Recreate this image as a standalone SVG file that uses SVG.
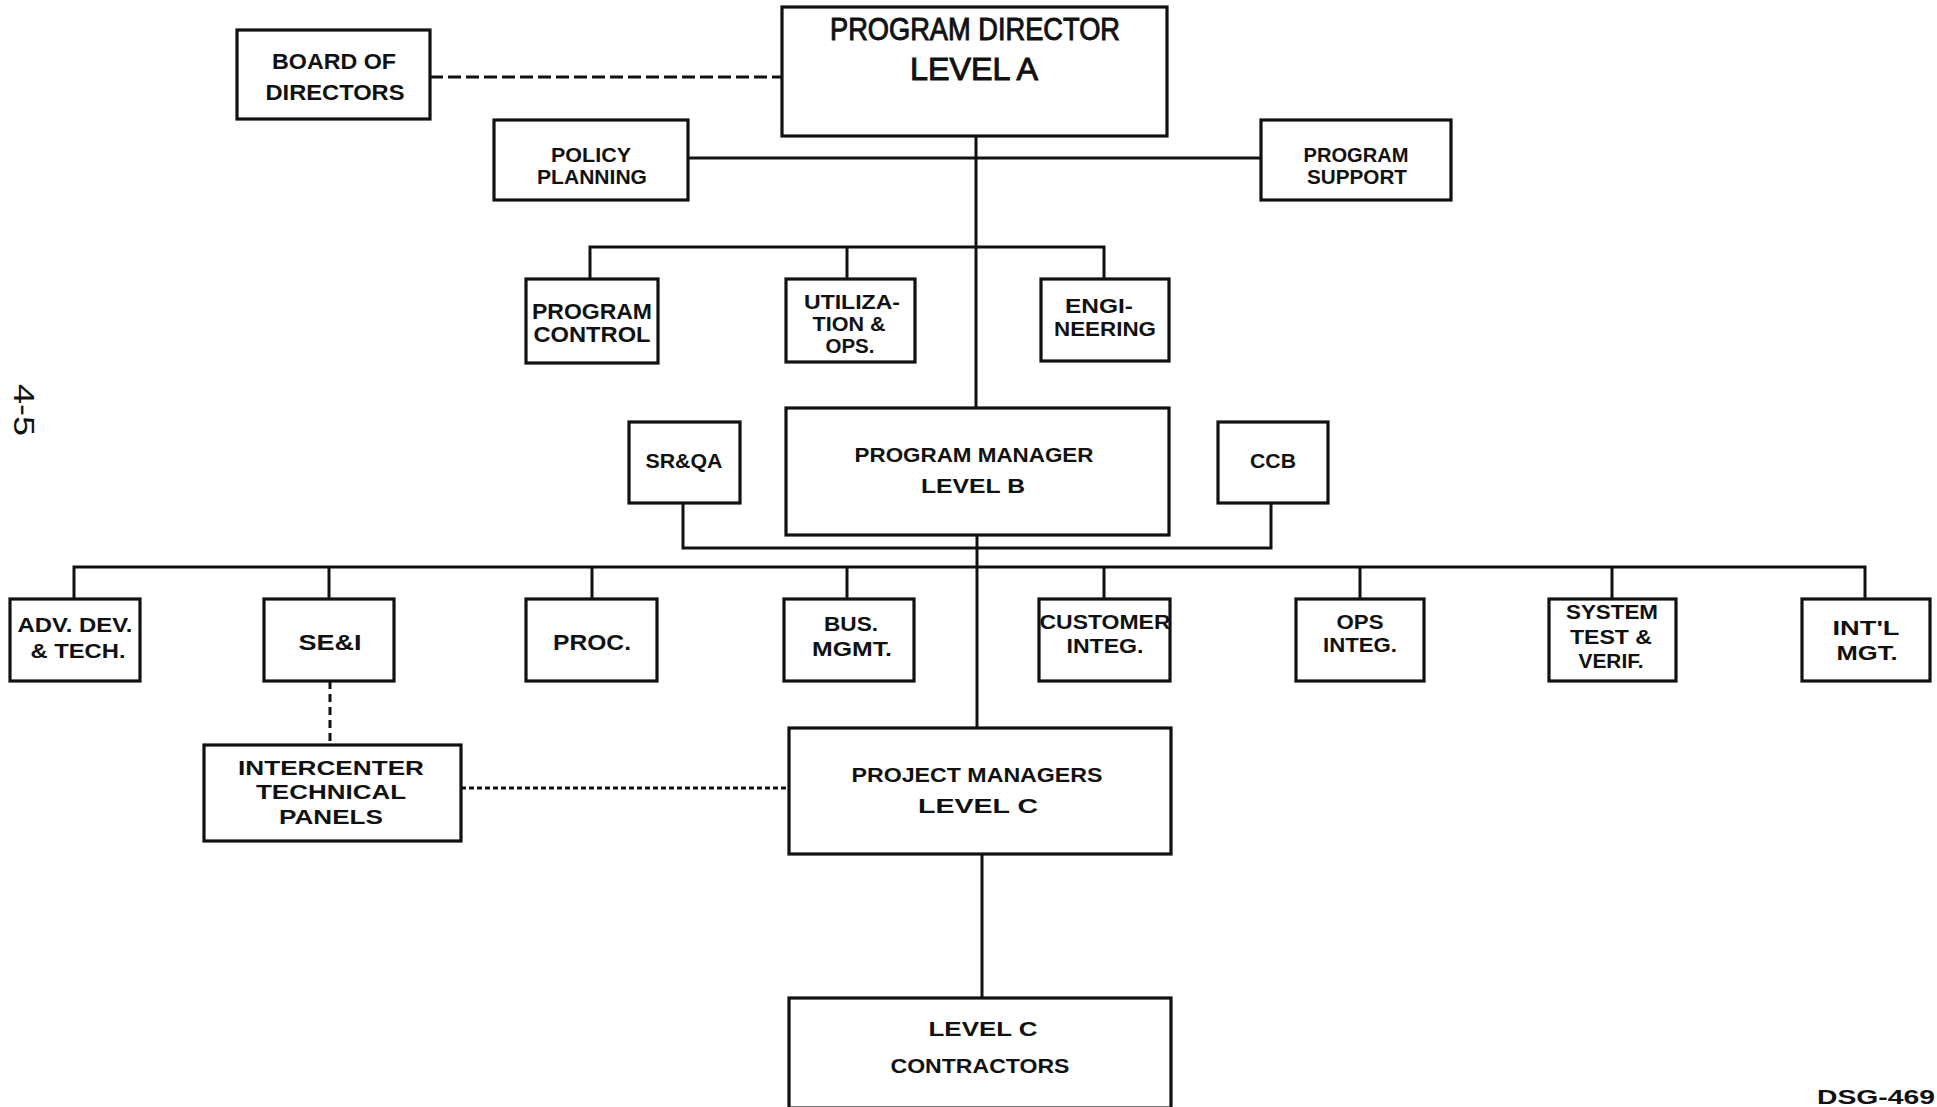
<svg xmlns="http://www.w3.org/2000/svg" width="1937" height="1107" viewBox="0 0 1937 1107">
  <style>
    .box { fill: #fff; stroke: #111; stroke-width: 3.2; }
    .ln { fill: none; stroke: #111; stroke-width: 3; }
    .dash { fill: none; stroke: #111; stroke-width: 3; stroke-dasharray: 13 5; }
    .dot { fill: none; stroke: #111; stroke-width: 3; stroke-dasharray: 5 3; }
    .vdash { fill: none; stroke: #111; stroke-width: 3; stroke-dasharray: 8 5; }
    text { font-family: "Liberation Sans", Arial, sans-serif; font-weight: bold; fill: #111; text-anchor: middle; }
    .t { font-size: 21px; }
    .big { font-size: 32px; font-weight: normal; stroke: #111; stroke-width: 1; }
    .mid { font-size: 22px; }
    .page { font-size: 30px; font-weight: normal; }
  </style>

  <!-- connectors -->
  <g id="connectors">
    <line class="dash" x1="430" y1="77" x2="782" y2="77"/>
    <line class="ln" x1="976" y1="136" x2="976" y2="408"/>
    <line class="ln" x1="688" y1="158" x2="1261" y2="158"/>
    <polyline class="ln" points="590,279 590,247 1104,247 1104,279"/>
    <line class="ln" x1="847" y1="247" x2="847" y2="279"/>
    <polyline class="ln" points="683,503 683,548 1271,548 1271,503"/>
    <line class="ln" x1="977" y1="535" x2="977" y2="728"/>
    <polyline class="ln" points="74,599 74,567 1865,567 1865,599"/>
    <line class="ln" x1="329" y1="567" x2="329" y2="599"/>
    <line class="ln" x1="592" y1="567" x2="592" y2="599"/>
    <line class="ln" x1="847" y1="567" x2="847" y2="599"/>
    <line class="ln" x1="1104" y1="567" x2="1104" y2="599"/>
    <line class="ln" x1="1360" y1="567" x2="1360" y2="599"/>
    <line class="ln" x1="1612" y1="567" x2="1612" y2="599"/>
    <line class="vdash" x1="330" y1="681" x2="330" y2="745"/>
    <line class="dot" x1="461" y1="788" x2="789" y2="788"/>
    <line class="ln" x1="982" y1="854" x2="982" y2="998"/>
  </g>

  <g id="board">
    <rect class="box" x="237" y="30" width="193" height="89"/>
    <text class="mid" x="334" y="69" textLength="124" lengthAdjust="spacingAndGlyphs">BOARD OF</text>
    <text class="mid" x="335" y="100" textLength="139" lengthAdjust="spacingAndGlyphs">DIRECTORS</text>
  </g>

  <g id="program-director">
    <rect class="box" x="782" y="7" width="385" height="129"/>
    <text class="big" x="975" y="40" textLength="290" lengthAdjust="spacingAndGlyphs">PROGRAM DIRECTOR</text>
    <text class="big" x="974" y="80" textLength="128" lengthAdjust="spacingAndGlyphs">LEVEL A</text>
  </g>

  <g id="policy-planning">
    <rect class="box" x="494" y="120" width="194" height="80"/>
    <text class="t" x="591" y="162" textLength="80" lengthAdjust="spacingAndGlyphs">POLICY</text>
    <text class="t" x="592" y="184" textLength="110" lengthAdjust="spacingAndGlyphs">PLANNING</text>
  </g>

  <g id="program-support">
    <rect class="box" x="1261" y="120" width="190" height="80"/>
    <text class="t" x="1356" y="162" textLength="105" lengthAdjust="spacingAndGlyphs">PROGRAM</text>
    <text class="t" x="1357" y="184" textLength="100" lengthAdjust="spacingAndGlyphs">SUPPORT</text>
  </g>

  <g id="program-control">
    <rect class="box" x="526" y="279" width="132" height="84"/>
    <text class="mid" x="592" y="319" textLength="120" lengthAdjust="spacingAndGlyphs">PROGRAM</text>
    <text class="mid" x="592" y="342" textLength="117" lengthAdjust="spacingAndGlyphs">CONTROL</text>
  </g>

  <g id="utilization">
    <rect class="box" x="786" y="279" width="129" height="83"/>
    <text class="t" x="852" y="309" textLength="96" lengthAdjust="spacingAndGlyphs">UTILIZA-</text>
    <text class="t" x="849" y="331" textLength="73" lengthAdjust="spacingAndGlyphs">TION &amp;</text>
    <text class="t" x="850" y="353" textLength="49" lengthAdjust="spacingAndGlyphs">OPS.</text>
  </g>

  <g id="engineering">
    <rect class="box" x="1041" y="279" width="128" height="82"/>
    <text class="t" x="1099" y="313" textLength="68" lengthAdjust="spacingAndGlyphs">ENGI-</text>
    <text class="t" x="1105" y="336" textLength="102" lengthAdjust="spacingAndGlyphs">NEERING</text>
  </g>

  <g id="program-manager">
    <rect class="box" x="786" y="408" width="383" height="127"/>
    <text class="t" x="974" y="462" textLength="239" lengthAdjust="spacingAndGlyphs">PROGRAM MANAGER</text>
    <text class="t" x="973" y="493" textLength="104" lengthAdjust="spacingAndGlyphs">LEVEL B</text>
  </g>

  <g id="srqa">
    <rect class="box" x="629" y="422" width="111" height="81"/>
    <text class="t" x="684" y="468" textLength="77" lengthAdjust="spacingAndGlyphs">SR&amp;QA</text>
  </g>

  <g id="ccb">
    <rect class="box" x="1218" y="422" width="110" height="81"/>
    <text class="t" x="1273" y="468" textLength="46" lengthAdjust="spacingAndGlyphs">CCB</text>
  </g>

  <g id="adv-dev">
    <rect class="box" x="10" y="599" width="130" height="82"/>
    <text class="t" x="75" y="632" textLength="115" lengthAdjust="spacingAndGlyphs">ADV. DEV.</text>
    <text class="t" x="78" y="658" textLength="95" lengthAdjust="spacingAndGlyphs">&amp; TECH.</text>
  </g>

  <g id="sei">
    <rect class="box" x="264" y="599" width="130" height="82"/>
    <text class="mid" x="330" y="650" textLength="63" lengthAdjust="spacingAndGlyphs">SE&amp;I</text>
  </g>

  <g id="proc">
    <rect class="box" x="526" y="599" width="131" height="82"/>
    <text class="mid" x="592" y="650" textLength="78" lengthAdjust="spacingAndGlyphs">PROC.</text>
  </g>

  <g id="bus-mgmt">
    <rect class="box" x="784" y="599" width="130" height="82"/>
    <text class="t" x="851" y="631" textLength="54" lengthAdjust="spacingAndGlyphs">BUS.</text>
    <text class="t" x="852" y="656" textLength="80" lengthAdjust="spacingAndGlyphs">MGMT.</text>
  </g>

  <g id="customer-integ">
    <rect class="box" x="1039" y="599" width="131" height="82"/>
    <text class="t" x="1105" y="629" textLength="131" lengthAdjust="spacingAndGlyphs">CUSTOMER</text>
    <text class="t" x="1105" y="653" textLength="77" lengthAdjust="spacingAndGlyphs">INTEG.</text>
  </g>

  <g id="ops-integ">
    <rect class="box" x="1296" y="599" width="128" height="82"/>
    <text class="t" x="1360" y="629" textLength="47" lengthAdjust="spacingAndGlyphs">OPS</text>
    <text class="t" x="1360" y="652" textLength="74" lengthAdjust="spacingAndGlyphs">INTEG.</text>
  </g>

  <g id="system-test">
    <rect class="box" x="1549" y="599" width="127" height="82"/>
    <text class="t" x="1612" y="619" textLength="92" lengthAdjust="spacingAndGlyphs">SYSTEM</text>
    <text class="t" x="1611" y="644" textLength="82" lengthAdjust="spacingAndGlyphs">TEST &amp;</text>
    <text class="t" x="1611" y="668" textLength="65" lengthAdjust="spacingAndGlyphs">VERIF.</text>
  </g>

  <g id="intl-mgt">
    <rect class="box" x="1802" y="599" width="128" height="82"/>
    <text class="t" x="1866" y="635" textLength="67" lengthAdjust="spacingAndGlyphs">INT'L</text>
    <text class="t" x="1867" y="660" textLength="61" lengthAdjust="spacingAndGlyphs">MGT.</text>
  </g>

  <g id="intercenter-panels">
    <rect class="box" x="204" y="745" width="257" height="96"/>
    <text class="t" x="331" y="775" textLength="186" lengthAdjust="spacingAndGlyphs">INTERCENTER</text>
    <text class="t" x="331" y="799" textLength="150" lengthAdjust="spacingAndGlyphs">TECHNICAL</text>
    <text class="t" x="331" y="824" textLength="104" lengthAdjust="spacingAndGlyphs">PANELS</text>
  </g>

  <g id="project-managers">
    <rect class="box" x="789" y="728" width="382" height="126"/>
    <text class="t" x="977" y="782" textLength="251" lengthAdjust="spacingAndGlyphs">PROJECT MANAGERS</text>
    <text class="t" x="978" y="813" textLength="120" lengthAdjust="spacingAndGlyphs">LEVEL C</text>
  </g>

  <g id="level-c-contractors">
    <rect class="box" x="789" y="998" width="382" height="110"/>
    <text class="t" x="983" y="1036" textLength="109" lengthAdjust="spacingAndGlyphs">LEVEL C</text>
    <text class="t" x="980" y="1073" textLength="179" lengthAdjust="spacingAndGlyphs">CONTRACTORS</text>
  </g>

  <!-- page number and drawing number -->
  <text class="page" x="24" y="410" transform="rotate(90 24 410)" dominant-baseline="central" textLength="52" lengthAdjust="spacingAndGlyphs">4-5</text>
  <text x="1876" y="1104" font-size="20" textLength="118" lengthAdjust="spacingAndGlyphs">DSG-469</text>
</svg>
